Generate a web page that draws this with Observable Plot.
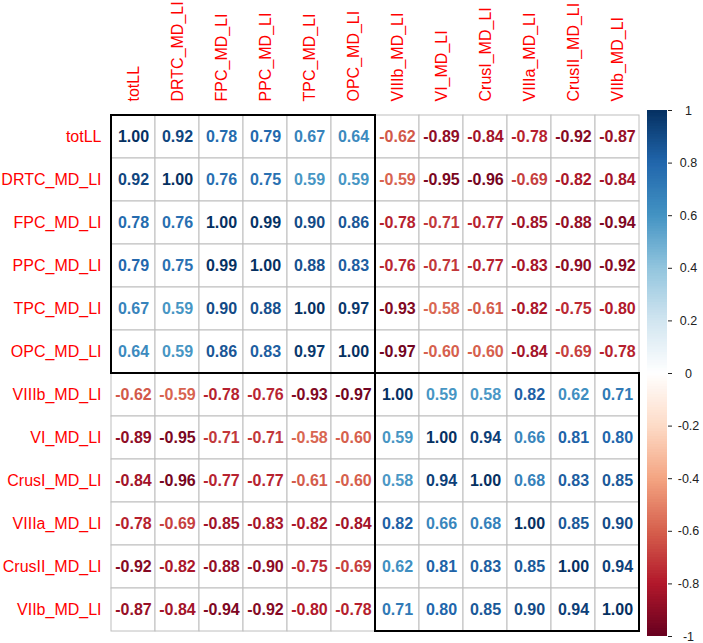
<!DOCTYPE html>
<html><head><meta charset="utf-8">
<script src="https://cdn.jsdelivr.net/npm/d3@7"></script>
<script src="https://cdn.jsdelivr.net/npm/@observablehq/plot@0.6"></script>
<style>
html,body{margin:0;padding:0;background:#fff;}
#chart{position:relative;width:703px;height:643px;}
#chart svg{position:absolute;left:0;top:0;}
</style></head><body><div id="chart"></div>
<script>
const labels = ["totLL","DRTC_MD_LI","FPC_MD_LI","PPC_MD_LI","TPC_MD_LI","OPC_MD_LI","VIIIb_MD_LI","VI_MD_LI","CrusI_MD_LI","VIIIa_MD_LI","CrusII_MD_LI","VIIb_MD_LI"];
const row_totLL  = [ 1.00, 0.92, 0.78, 0.79, 0.67, 0.64,-0.62,-0.89,-0.84,-0.78,-0.92,-0.87];
const row_DRTC   = [ 0.92, 1.00, 0.76, 0.75, 0.59, 0.59,-0.59,-0.95,-0.96,-0.69,-0.82,-0.84];
const row_FPC    = [ 0.78, 0.76, 1.00, 0.99, 0.90, 0.86,-0.78,-0.71,-0.77,-0.85,-0.88,-0.94];
const row_PPC    = [ 0.79, 0.75, 0.99, 1.00, 0.88, 0.83,-0.76,-0.71,-0.77,-0.83,-0.90,-0.92];
const row_TPC    = [ 0.67, 0.59, 0.90, 0.88, 1.00, 0.97,-0.93,-0.58,-0.61,-0.82,-0.75,-0.80];
const row_OPC    = [ 0.64, 0.59, 0.86, 0.83, 0.97, 1.00,-0.97,-0.60,-0.60,-0.84,-0.69,-0.78];
const row_VIIIb  = [-0.62,-0.59,-0.78,-0.76,-0.93,-0.97, 1.00, 0.59, 0.58, 0.82, 0.62, 0.71];
const row_VI     = [-0.89,-0.95,-0.71,-0.71,-0.58,-0.60, 0.59, 1.00, 0.94, 0.66, 0.81, 0.80];
const row_CrusI  = [-0.84,-0.96,-0.77,-0.77,-0.61,-0.60, 0.58, 0.94, 1.00, 0.68, 0.83, 0.85];
const row_VIIIa  = [-0.78,-0.69,-0.85,-0.83,-0.82,-0.84, 0.82, 0.66, 0.68, 1.00, 0.85, 0.90];
const row_CrusII = [-0.92,-0.82,-0.88,-0.90,-0.75,-0.69, 0.62, 0.81, 0.83, 0.85, 1.00, 0.94];
const row_VIIb   = [-0.87,-0.84,-0.94,-0.92,-0.80,-0.78, 0.71, 0.80, 0.85, 0.90, 0.94, 1.00];
const corrRows = [row_totLL,row_DRTC,row_FPC,row_PPC,row_TPC,row_OPC,row_VIIIb,row_VI,row_CrusI,row_VIIIa,row_CrusII,row_VIIb];
const clusters = [["totLL","OPC_MD_LI"],["VIIIb_MD_LI","VIIb_MD_LI"]];
const legendTicks = [-1,-0.8,-0.6,-0.4,-0.2,0,0.2,0.4,0.6,0.8,1];
const paletteStops = [-1,-0.8,-0.6,-0.4,-0.2,0,0.2,0.4,0.6,0.8,1];
const palette = ["#67001F","#B2182B","#D6604D","#F4A582","#FDDBC7","#FFFFFF","#D1E5F0","#92C5DE","#4393C3","#2166AC","#053061"];

const cells = labels.flatMap((r, i) => labels.map((c, j) => ({row: r, col: c, value: corrRows[i][j]})));
const colorScale = {type: "linear", domain: paletteStops, range: palette, interpolate: "rgb"};
const font = "'Liberation Sans', Arial, Helvetica, sans-serif";

function clusterBoxes(index, scales) {
  const x = scales.x, y = scales.y;
  const bx = x.bandwidth ? x.bandwidth() : 0;
  const by = y.bandwidth ? y.bandwidth() : 0;
  const g = d3.create("svg:g").attr("fill", "none").attr("stroke", "black").attr("stroke-width", 2);
  for (const [a, b] of clusters) {
    const x0 = x(a), x1 = x(b) + bx, y0 = y(a), y1 = y(b) + by;
    g.append("rect").attr("x", x0).attr("y", y0).attr("width", x1 - x0).attr("height", y1 - y0);
  }
  return g.node();
}

const main = Plot.plot({
  width: 703, height: 643,
  marginLeft: 111, marginRight: 64, marginTop: 110, marginBottom: 7,
  style: {fontFamily: font, background: "transparent"},
  x: {domain: labels, padding: 0},
  y: {domain: labels, padding: 0},
  color: colorScale,
  marks: [
    Plot.cell(cells, {x: "col", y: "row", fill: "white", stroke: "#BEBEBE", strokeWidth: 1, inset: 0}),
    Plot.text(cells, {x: "col", y: "row", text: d => d.value.toFixed(2), fill: "value", fontSize: 16, fontWeight: "bold"}),
    Plot.axisX({anchor: "top", tickSize: 0, tickRotate: -90, tickPadding: 9, color: "red", fontSize: 16, label: null}),
    Plot.axisY({anchor: "left", tickSize: 0, tickPadding: 10, color: "red", fontSize: 16, label: null}),
    clusterBoxes
  ]
});

const steps = d3.range(200).map(i => -1 + i * 0.01);
const legend = Plot.plot({
  width: 703, height: 643,
  marginLeft: 647, marginRight: 36, marginTop: 110, marginBottom: 7,
  style: {fontFamily: font, background: "transparent"},
  x: {domain: [0, 1], axis: null},
  y: {domain: [-1, 1]},
  color: colorScale,
  marks: [
    Plot.rect(steps, {x1: () => 0, x2: () => 1, y1: d => d, y2: d => Math.min(1, d + 0.013), fill: d => d + 0.005, inset: 0}),
    Plot.axisY({anchor: "right", ticks: legendTicks, tickSize: 4, tickPadding: 17, textAnchor: "middle", tickFormat: d => String(+d.toFixed(1)), fontSize: 12.5, color: "#222", label: null})
  ]
});

const root = document.getElementById("chart");
root.appendChild(main);
root.appendChild(legend);
</script></body></html>
